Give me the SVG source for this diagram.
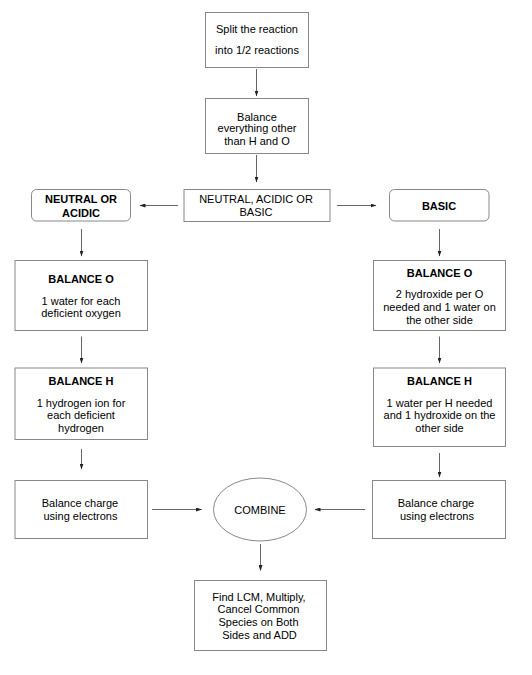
<svg xmlns="http://www.w3.org/2000/svg" width="532" height="675" viewBox="0 0 532 675">
<defs>
<marker id="ah" markerWidth="6" markerHeight="4" refX="5.5" refY="2" orient="auto" markerUnits="userSpaceOnUse">
<path d="M0,0 L6,2 L0,4 Z" fill="#222"/>
</marker>
</defs>
<style>
.box{fill:#fff;stroke:#888;stroke-width:1}
.ln{stroke:#666;stroke-width:1;fill:none;marker-end:url(#ah)}
text{font-family:"Liberation Sans",Arial,sans-serif;font-size:11px;fill:#000;text-anchor:middle}
.b{font-weight:bold}
</style>
<rect width="532" height="675" fill="#fff"/>
<g id="connectors">
<line class="ln" x1="256.5" y1="69" x2="256.5" y2="96"/>
<line class="ln" x1="256.5" y1="155" x2="256.5" y2="182"/>
<line class="ln" x1="178" y1="205.5" x2="140" y2="205.5"/>
<line class="ln" x1="337" y1="205.5" x2="376" y2="205.5"/>
<line class="ln" x1="81.5" y1="229" x2="81.5" y2="256"/>
<line class="ln" x1="439.5" y1="229" x2="439.5" y2="256"/>
<line class="ln" x1="81.5" y1="336.5" x2="81.5" y2="363"/>
<line class="ln" x1="439.5" y1="336.5" x2="439.5" y2="363"/>
<line class="ln" x1="81.5" y1="449" x2="81.5" y2="469"/>
<line class="ln" x1="439.5" y1="453" x2="439.5" y2="477"/>
<line class="ln" x1="152" y1="509.5" x2="201.5" y2="509.5"/>
<line class="ln" x1="365" y1="509.5" x2="315" y2="509.5"/>
<line class="ln" x1="260.5" y1="544" x2="260.5" y2="570.5"/>
</g>
<g id="split">
<rect class="box" x="205.5" y="12.5" width="103" height="55"/>
<text x="257" y="33">Split the reaction</text>
<text x="257" y="54">into 1/2 reactions</text>
</g>
<g id="balance-other">
<rect class="box" x="205.5" y="98.5" width="103" height="55"/>
<text x="257" y="120.5">Balance</text>
<text x="257" y="132">everything other</text>
<text x="257" y="145">than H and O</text>
</g>
<g id="choice">
<rect class="box" x="184" y="189.5" width="146" height="32"/>
<text x="256" y="203">NEUTRAL, ACIDIC OR</text>
<text x="256" y="215.5">BASIC</text>
</g>
<g id="neutral">
<rect class="box" x="31.5" y="189.5" width="99" height="31.5" rx="5"/>
<text class="b" x="81" y="203">NEUTRAL OR</text>
<text class="b" x="81" y="216.5">ACIDIC</text>
</g>
<g id="basic">
<rect class="box" x="389.5" y="189.5" width="99.5" height="31.5" rx="5"/>
<text class="b" x="439" y="210">BASIC</text>
</g>
<g id="acid-o">
<rect class="box" x="15" y="260.5" width="132.5" height="70"/>
<text class="b" x="81" y="283">BALANCE O</text>
<text x="81" y="304.5">1 water for each</text>
<text x="81" y="317">deficient oxygen</text>
</g>
<g id="basic-o">
<rect class="box" x="373.5" y="260.5" width="132" height="70"/>
<text class="b" x="439.5" y="277">BALANCE O</text>
<text x="439.5" y="298">2 hydroxide per O</text>
<text x="439.5" y="311">needed and 1 water on</text>
<text x="439.5" y="324">the other side</text>
</g>
<g id="acid-h">
<rect class="box" x="15" y="368" width="132.5" height="71.5"/>
<text class="b" x="81" y="385">BALANCE H</text>
<text x="81" y="406.5">1 hydrogen ion for</text>
<text x="81" y="419">each deficient</text>
<text x="81" y="432">hydrogen</text>
</g>
<g id="basic-h">
<rect class="box" x="373.5" y="368" width="132" height="78.5"/>
<text class="b" x="439.5" y="385">BALANCE H</text>
<text x="439.5" y="406.5">1 water per H needed</text>
<text x="439.5" y="419">and 1 hydroxide on the</text>
<text x="439.5" y="432">other side</text>
</g>
<g id="acid-charge">
<rect class="box" x="15" y="480.5" width="132.5" height="58"/>
<text x="80" y="507">Balance charge</text>
<text x="80.5" y="520">using electrons</text>
</g>
<g id="basic-charge">
<rect class="box" x="372.5" y="480.5" width="133" height="58"/>
<text x="436" y="507">Balance charge</text>
<text x="437" y="520">using electrons</text>
</g>
<g id="combine">
<ellipse class="box" cx="260" cy="509.5" rx="46.5" ry="31.5"/>
<text x="260" y="514">COMBINE</text>
</g>
<g id="final">
<rect class="box" x="194.5" y="580.5" width="132" height="70"/>
<text x="259" y="600.5">Find LCM, Multiply,</text>
<text x="258.5" y="613">Cancel Common</text>
<text x="258.5" y="626">Species on Both</text>
<text x="259.5" y="639">Sides and ADD</text>
</g>
</svg>
